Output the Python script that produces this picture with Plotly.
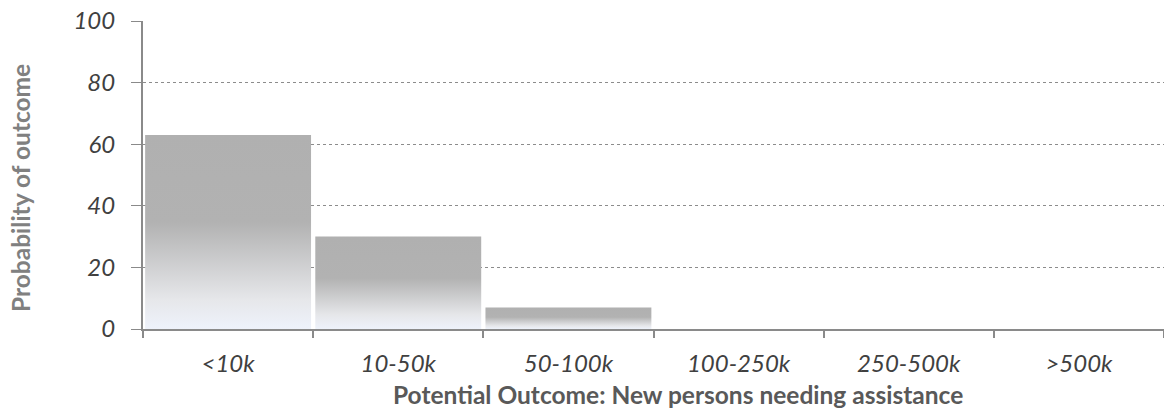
import plotly.graph_objects as go

# Outcome bands and their probabilities (%)
categories = ["<10k", "10-50k", "50-100k", "100-250k", "250-500k", ">500k"]
probability = [63, 30, 7, 0, 0, 0]
y_ticks = [0, 20, 40, 60, 80, 100]

FONT = "Lato"
BAR_HALF = 0.4875
GRADIENT = [[0.0, "#eef2fb"], [0.15, "#e6e7ea"], [0.55, "#b2b2b2"], [1.0, "#b0b0b0"]]

fig = go.Figure()

# each bar is a filled polygon so it can carry a vertical gradient
for i, (cat, val) in enumerate(zip(categories, probability)):
    if val <= 0:
        continue
    fig.add_trace(go.Scatter(
        x=[i - BAR_HALF, i - BAR_HALF, i + BAR_HALF, i + BAR_HALF, i - BAR_HALF],
        y=[0, val, val, 0, 0],
        mode="lines",
        line=dict(width=0),
        fill="toself",
        fillgradient=dict(type="vertical", colorscale=GRADIENT),
        name=cat,
        hoverinfo="skip",
        showlegend=False,
    ))

fig.update_layout(
    width=1164, height=416,
    margin=dict(l=143, r=0, t=21, b=87),
    paper_bgcolor="white", plot_bgcolor="white",
    font=dict(family=FONT, color="#404040"),
    showlegend=False,
    xaxis=dict(
        range=[-0.5, 5.5],
        tickmode="array",
        tickvals=list(range(len(categories))),
        ticktext=categories,
        ticks="",
        tickfont=dict(size=24, family=FONT, color="#404040", style="italic"),
        ticklabelstandoff=12,
        showgrid=False, zeroline=False,
        showline=True, linecolor="#8a8a8a", linewidth=2,
        minor=dict(tickvals=[k - 0.5 for k in range(len(categories) + 1)],
                   ticks="outside", ticklen=7, tickcolor="#8a8a8a", tickwidth=2,
                   showgrid=False),
        fixedrange=True,
    ),
    yaxis=dict(
        range=[0, 100],
        tickmode="array",
        tickvals=y_ticks,
        ticks="outside", ticklen=10, tickcolor="#8a8a8a", tickwidth=1,
        tickfont=dict(size=24, family=FONT, color="#404040", style="italic"),
        ticklabelstandoff=11,
        showgrid=True, gridcolor="#8c8c8c", griddash="dot", gridwidth=1,
        zeroline=False,
        showline=True, linecolor="#8a8a8a", linewidth=2,
        fixedrange=True,
    ),
    annotations=[
        dict(text="<b>Potential Outcome: New persons needing assistance</b>",
             xref="paper", yref="paper", x=(678 - 143) / 1021, y=-66 / 308,
             xanchor="center", yanchor="middle", showarrow=False,
             font=dict(size=24.5, family=FONT, color="#595959")),
        dict(text="<b>Probability of outcome</b>",
             xref="paper", yref="paper", x=-122 / 1021, y=(329 - 188) / 308,
             xanchor="center", yanchor="middle", textangle=-90, showarrow=False,
             font=dict(size=24.5, family=FONT, color="#808080")),
    ],
)

fig.write_html("out.html")
